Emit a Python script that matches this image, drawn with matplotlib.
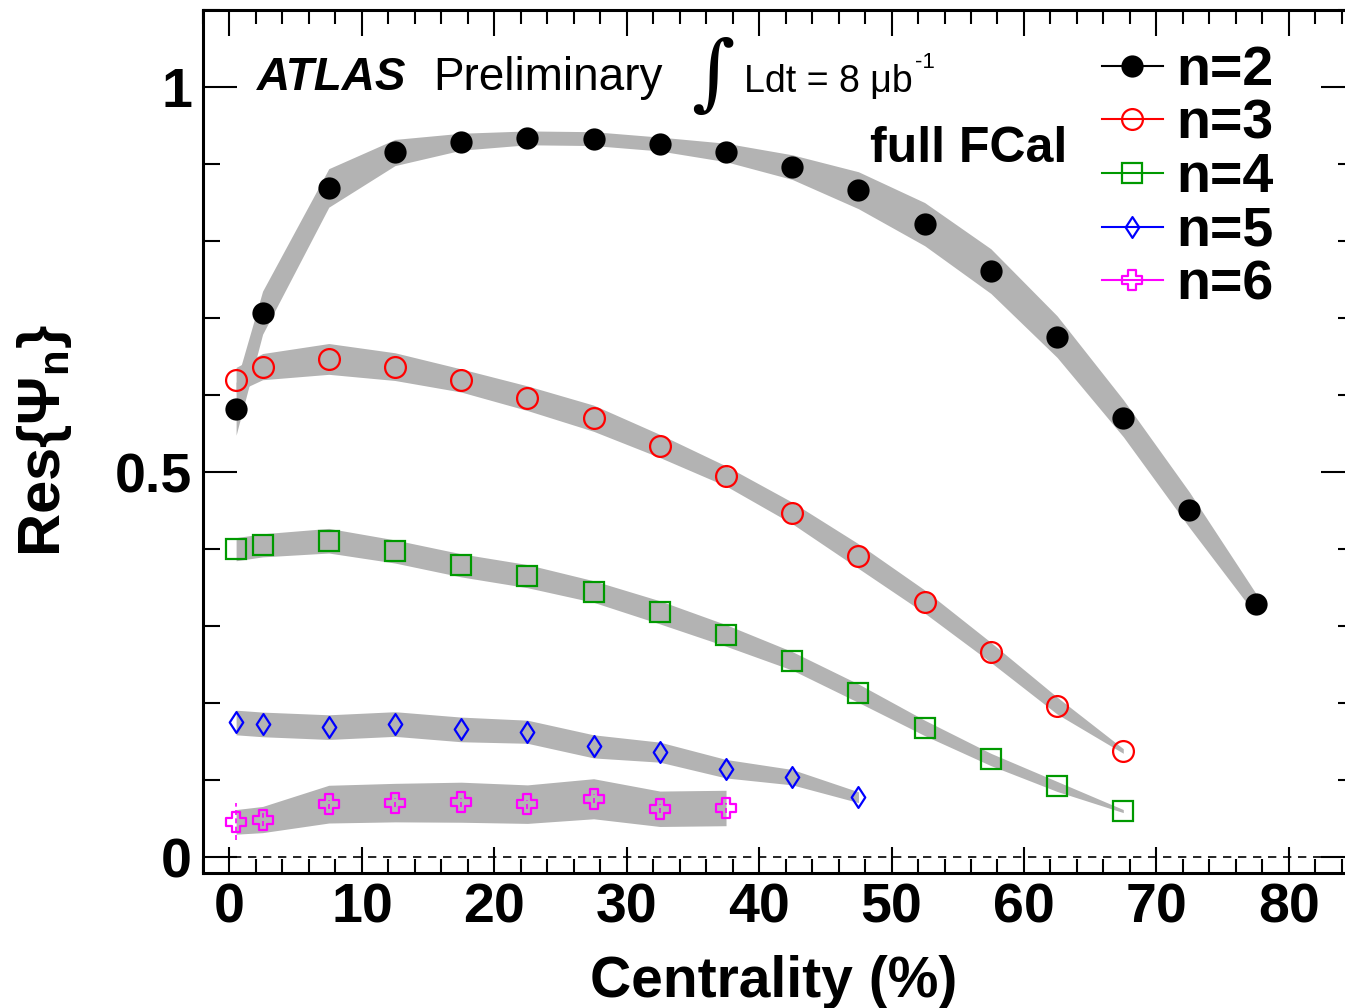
import matplotlib
matplotlib.use("Agg")
import matplotlib.pyplot as plt
from matplotlib.lines import Line2D
from matplotlib.path import Path
from matplotlib.ticker import MultipleLocator

plt.rcParams['font.family'] = ['Liberation Sans', 'DejaVu Sans']
plt.rcParams['mathtext.fontset'] = 'custom'
plt.rcParams['mathtext.rm'] = 'Liberation Sans'
plt.rcParams['mathtext.bf'] = 'Liberation Sans:bold'
plt.rcParams['mathtext.it'] = 'Liberation Sans:italic'

# centrality bin centres (%)
cent = [0.5, 2.5, 7.5, 12.5, 17.5, 22.5, 27.5, 32.5, 37.5,
        42.5, 47.5, 52.5, 57.5, 62.5, 67.5, 72.5, 77.5]

# resolution values and systematic band half-widths
n2 = [0.582, 0.707, 0.869, 0.915, 0.929, 0.934, 0.933, 0.926, 0.915,
      0.896, 0.866, 0.822, 0.761, 0.676, 0.570, 0.451, 0.329]
n2_sys = [0.034, 0.028, 0.025, 0.017, 0.011, 0.009, 0.009, 0.009, 0.012,
          0.016, 0.024, 0.028, 0.029, 0.027, 0.024, 0.023, 0.014]

n3 = [0.620, 0.637, 0.647, 0.637, 0.619, 0.596, 0.570, 0.534, 0.495,
      0.447, 0.391, 0.332, 0.266, 0.197, 0.138]
n3_sys = [0.016, 0.017, 0.020, 0.018, 0.015, 0.016, 0.017, 0.015, 0.013,
          0.014, 0.016, 0.015, 0.013, 0.011, 0.003]

n4 = [0.400, 0.405, 0.411, 0.397, 0.379, 0.365, 0.345, 0.318, 0.288,
      0.255, 0.213, 0.168, 0.127, 0.092, 0.060]
n4_sys = [0.015, 0.015, 0.016, 0.015, 0.015, 0.015, 0.014, 0.015, 0.014,
          0.012, 0.012, 0.010, 0.008, 0.0065, 0.002]

n5 = [0.175, 0.1725, 0.169, 0.173, 0.166, 0.163, 0.144, 0.1365, 0.115,
      0.104, 0.078]
n5_sys = [0.016, 0.016, 0.016, 0.016, 0.016, 0.015, 0.015, 0.013, 0.012,
          0.010, 0.007]

n6 = [0.046, 0.049, 0.069, 0.071, 0.0715, 0.069, 0.076, 0.063, 0.064]
n6_sys = [0.016, 0.017, 0.0245, 0.025, 0.026, 0.025, 0.026, 0.023, 0.023]
n6_stat = [0.024, 0.008, 0.006, 0.006, 0.006, 0.006, 0.006, 0.006, 0.006]

labels = ["n=2", "n=3", "n=4", "n=5", "n=6"]

W, H = 1345, 1008


def fx(x):
    return x / W


def fy(y):
    return 1 - y / H


a = 0.35
cross = Path([(-a, 1), (a, 1), (a, a), (1, a), (1, -a), (a, -a), (a, -1),
              (-a, -1), (-a, -a), (-1, -a), (-1, a), (-a, a), (-a, 1)],
             closed=True)
diamond = Path([(0, 1), (0.65, 0), (0, -1), (-0.65, 0), (0, 1)], closed=True)

styles = [
    dict(color="black", marker="o", ms=14.5, mfc="black", mew=1.5),
    dict(color="#ff0000", marker="o", ms=15, mfc="none", mew=1.6),
    dict(color="#009900", marker="s", ms=14.5, mfc="none", mew=1.6),
    dict(color="#0000ff", marker=diamond, ms=15, mfc="none", mew=1.6),
    dict(color="#ff00ff", marker=cross, ms=15, mfc="none", mew=1.6),
]
series = [(n2, n2_sys), (n3, n3_sys), (n4, n4_sys), (n5, n5_sys), (n6, n6_sys)]

fig = plt.figure(figsize=(W / 100, H / 100), dpi=100)
ax = fig.add_axes([fx(203), fy(872.7), (1355 - 203) / W, (872.7 - 10) / H])

for vals, sys in series:
    x = cent[:len(vals)]
    lo = [v - s for v, s in zip(vals, sys)]
    hi = [v + s for v, s in zip(vals, sys)]
    ax.fill_between(x, lo, hi, color="#b3b3b3", lw=0, zorder=1)

ax.axhline(0, color="black", lw=1.2, ls=(0, (5, 4)), zorder=2)

# stat error on the n=6 points (mostly hidden by the markers)
eb = ax.errorbar(cent[:len(n6)], n6, yerr=n6_stat, fmt="none",
                 ecolor="#ff00ff", elinewidth=1.2, zorder=3)
eb[2][0].set_linestyle((0, (3, 2)))

handles = []
for (vals, sys), st, lab in zip(series, styles, labels):
    ax.plot(cent[:len(vals)], vals, ls="none", marker=st["marker"],
            ms=st["ms"], mfc=st["mfc"], mec=st["color"], mew=st["mew"],
            zorder=4)
    handles.append(Line2D([], [], color=st["color"], lw=1.5,
                          marker=st["marker"], ms=st["ms"], mfc=st["mfc"],
                          mec=st["color"], mew=st["mew"]))

ax.set_xlim(-2, 85)
ax.set_ylim(-0.02, 1.1)
ax.set_xticks(range(0, 81, 10))
ax.set_yticks([0, 0.5, 1], ["0", "0.5", "1"])
ax.xaxis.set_minor_locator(MultipleLocator(2))
ax.yaxis.set_minor_locator(MultipleLocator(0.1))
ax.tick_params(axis="both", which="both", direction="in", top=True,
               right=True, width=1.5, labelsize=40)
ax.tick_params(axis="x", which="major", length=18.5, pad=7)
ax.tick_params(axis="x", which="minor", length=9.8)
ax.tick_params(axis="y", which="major", length=24.5, pad=8)
ax.tick_params(axis="y", which="minor", length=12.2)
for lab in ax.get_xticklabels() + ax.get_yticklabels():
    lab.set_fontweight("bold")
for sp in ax.spines.values():
    sp.set_linewidth(2.2)

leg = ax.legend(handles, labels, loc="upper left",
                bbox_to_anchor=((1102 - 203) / 1152, (872.7 - 45) / 862.7),
                frameon=False, prop=dict(size=40, weight="bold"),
                handlelength=1.09, handletextpad=0.24, labelspacing=0.03,
                borderpad=0, borderaxespad=0)

fig.text(fx(257), fy(90), "ATLAS", fontsize=33, fontweight="bold",
         style="italic", va="baseline")
fig.text(fx(433), fy(90), "Preliminary", fontsize=33, va="baseline")
fig.text(fx(713), fy(77), "\u222b", fontsize=60, family="DejaVu Serif",
         ha="center", va="center")
fig.text(fx(744), fy(92), "Ldt = 8 \u03bcb", fontsize=27, va="baseline")
fig.text(fx(915), fy(68), "-1", fontsize=16, va="baseline")
fig.text(fx(870), fy(162), "full FCal", fontsize=36, fontweight="bold",
         va="baseline")

fig.text(fx(774), fy(997), "Centrality (%)", fontsize=41, fontweight="bold",
         ha="center", va="baseline")
fig.text(fx(45), fy(440), "Res{\u03a8$_\\mathbf{n}$}", fontsize=43,
         fontweight="bold", rotation=90, ha="center", va="center")

fig.savefig("out.png", dpi=100)
